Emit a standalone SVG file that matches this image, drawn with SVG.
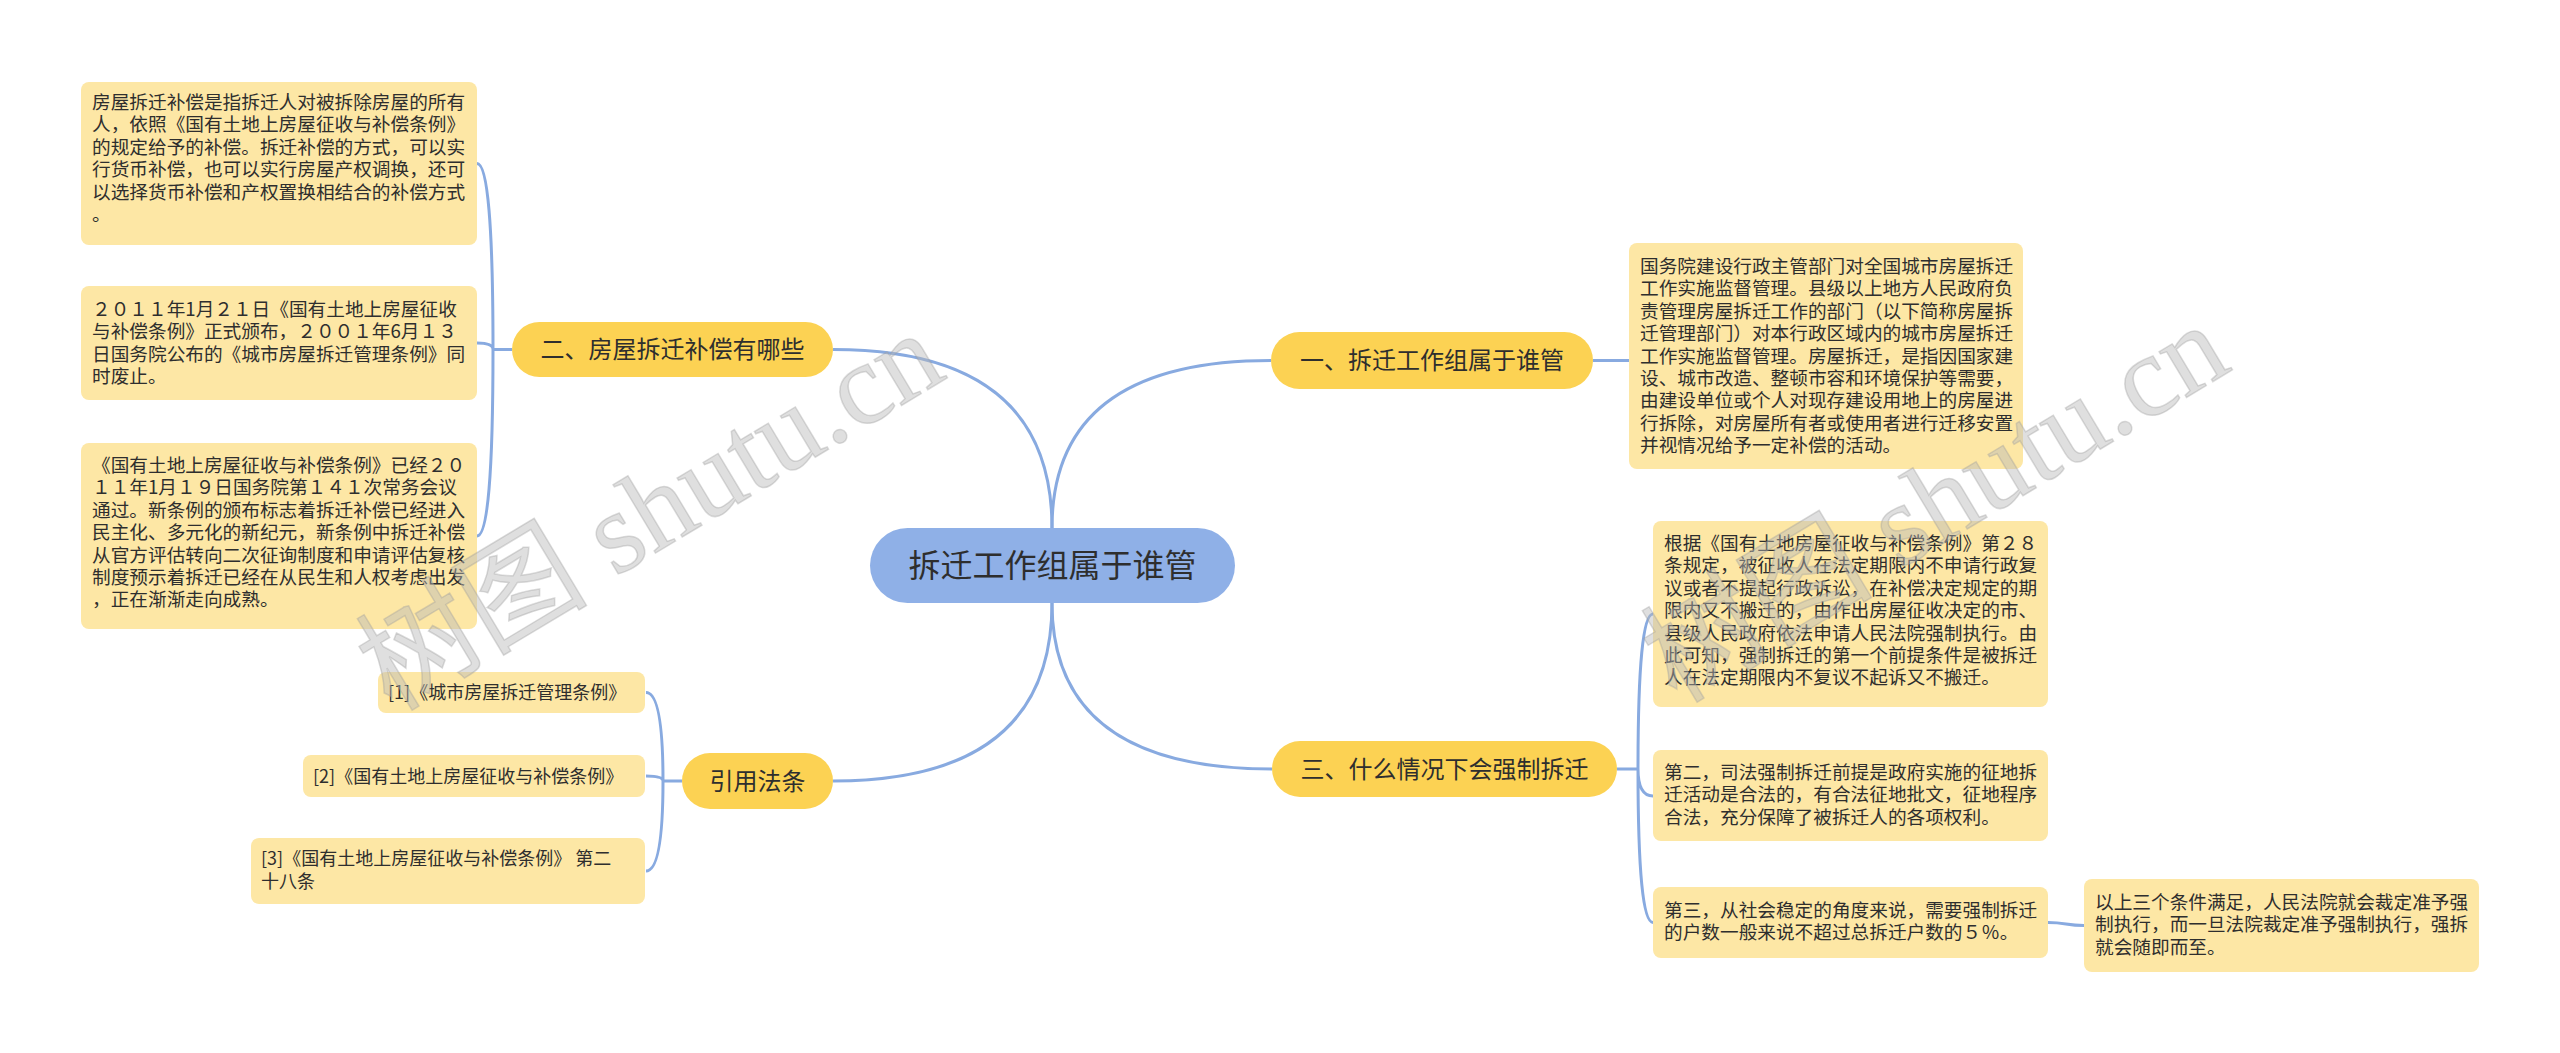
<svg xmlns="http://www.w3.org/2000/svg" width="2560" height="1053" viewBox="0 0 2560 1053">
<style>
.cn{font-family:"Noto Sans CJK SC","Noto Sans",sans-serif;fill:#2e2e2e}
.d{font-size:18.67px}
.r{font-size:18px}
.b{font-size:24px}
.root{font-size:32px}
.ln{fill:none;stroke:#88aae0;stroke-width:3}
.box{fill:#fde7a5}
.br{fill:#fcd253}
.wm{font-family:"Liberation Serif","Noto Sans CJK SC",serif;font-size:116px;fill:#b8b8b8;fill-opacity:0.45;stroke:#9a9a9a;stroke-opacity:0.35;stroke-width:1.5}
</style>
<rect width="2560" height="1053" fill="#ffffff"/>
<g id="connectors">
<path class="ln" d="M1052,528 Q1052,360.5 1271,360.5"/>
<path class="ln" d="M1052,528 Q1052,349.5 833,349.5"/>
<path class="ln" d="M1052,603 Q1052,781 833,781"/>
<path class="ln" d="M1052,603 Q1052,769 1272,769"/>
<path class="ln" d="M1593,360.5 L1629,360.5"/>
<path class="ln" d="M1617,769 H1638 M1638,769 Q1638,614 1653,614 M1638,769 Q1638,796 1653,796 M1638,769 Q1638,922.5 1653,922.5"/>
<path class="ln" d="M2048,922.5 C2066,922.5 2066,925.5 2084,925.5"/>
<path class="ln" d="M512,349.5 H493 M493,349.5 Q493,163.5 477,163.5 M493,349.5 Q493,343 477,343 M493,349.5 Q493,536 477,536"/>
<path class="ln" d="M682,781 H663 M663,781 Q663,692.5 646,692.5 M663,781 Q663,776 646,776 M663,781 Q663,871 646,871"/>
</g>
<g id="root">
<rect x="870" y="528" width="365" height="75" rx="37.5" fill="#8fb0e7"/>
<text class="cn root" x="1052.5" y="576.5" text-anchor="middle">拆迁工作组属于谁管</text>
</g>
<g id="n1">
<rect class="br" x="1271" y="332" width="322" height="57" rx="28.5"/>
<text class="cn b" x="1432" y="369" text-anchor="middle">一、拆迁工作组属于谁管</text>
</g>
<g id="n1d">
<rect class="box" x="1629" y="243" width="394" height="226" rx="8"/>
<text class="cn d">
<tspan x="1640" y="273">国务院建设行政主管部门对全国城市房屋拆迁</tspan>
<tspan x="1640" y="295.4">工作实施监督管理。县级以上地方人民政府负</tspan>
<tspan x="1640" y="317.8">责管理房屋拆迁工作的部门（以下简称房屋拆</tspan>
<tspan x="1640" y="340.2">迁管理部门）对本行政区域内的城市房屋拆迁</tspan>
<tspan x="1640" y="362.6">工作实施监督管理。房屋拆迁，是指因国家建</tspan>
<tspan x="1640" y="385">设、城市改造、整顿市容和环境保护等需要，</tspan>
<tspan x="1640" y="407.4">由建设单位或个人对现存建设用地上的房屋进</tspan>
<tspan x="1640" y="429.8">行拆除，对房屋所有者或使用者进行迁移安置</tspan>
<tspan x="1640" y="452.2">并视情况给予一定补偿的活动。</tspan>
</text>
</g>
<g id="n3">
<rect class="br" x="1272" y="741" width="345" height="56" rx="28"/>
<text class="cn b" x="1444.5" y="777.5" text-anchor="middle">三、什么情况下会强制拆迁</text>
</g>
<g id="n3a">
<rect class="box" x="1653" y="521" width="395" height="186" rx="8"/>
<text class="cn d">
<tspan x="1664" y="550">根据《国有土地房屋征收与补偿条例》第２８</tspan>
<tspan x="1664" y="572.4">条规定，被征收人在法定期限内不申请行政复</tspan>
<tspan x="1664" y="594.8">议或者不提起行政诉讼，在补偿决定规定的期</tspan>
<tspan x="1664" y="617.2">限内又不搬迁的，由作出房屋征收决定的市、</tspan>
<tspan x="1664" y="639.6">县级人民政府依法申请人民法院强制执行。由</tspan>
<tspan x="1664" y="662">此可知，强制拆迁的第一个前提条件是被拆迁</tspan>
<tspan x="1664" y="684.4">人在法定期限内不复议不起诉又不搬迁。</tspan>
</text>
</g>
<g id="n3b">
<rect class="box" x="1653" y="750" width="395" height="91" rx="8"/>
<text class="cn d">
<tspan x="1664" y="779">第二，司法强制拆迁前提是政府实施的征地拆</tspan>
<tspan x="1664" y="801.4">迁活动是合法的，有合法征地批文，征地程序</tspan>
<tspan x="1664" y="823.8">合法，充分保障了被拆迁人的各项权利。</tspan>
</text>
</g>
<g id="n3c">
<rect class="box" x="1653" y="887" width="395" height="71" rx="8"/>
<text class="cn d">
<tspan x="1664" y="917">第三，从社会稳定的角度来说，需要强制拆迁</tspan>
<tspan x="1664" y="939.4">的户数一般来说不超过总拆迁户数的５％。</tspan>
</text>
</g>
<g id="n3c1">
<rect class="box" x="2084" y="879" width="395" height="93" rx="8"/>
<text class="cn d">
<tspan x="2095" y="909">以上三个条件满足，人民法院就会裁定准予强</tspan>
<tspan x="2095" y="931.4">制执行，而一旦法院裁定准予强制执行，强拆</tspan>
<tspan x="2095" y="953.8">就会随即而至。</tspan>
</text>
</g>
<g id="n2">
<rect class="br" x="512" y="322" width="321" height="55" rx="27.5"/>
<text class="cn b" x="672.5" y="358" text-anchor="middle">二、房屋拆迁补偿有哪些</text>
</g>
<g id="n2a">
<rect class="box" x="81" y="82" width="396" height="163" rx="8"/>
<text class="cn d">
<tspan x="92" y="109">房屋拆迁补偿是指拆迁人对被拆除房屋的所有</tspan>
<tspan x="92" y="131.4">人，依照《国有土地上房屋征收与补偿条例》</tspan>
<tspan x="92" y="153.8">的规定给予的补偿。拆迁补偿的方式，可以实</tspan>
<tspan x="92" y="176.2">行货币补偿，也可以实行房屋产权调换，还可</tspan>
<tspan x="92" y="198.6">以选择货币补偿和产权置换相结合的补偿方式</tspan>
<tspan x="92" y="221">。</tspan>
</text>
</g>
<g id="n2b">
<rect class="box" x="81" y="286" width="396" height="114" rx="8"/>
<text class="cn d">
<tspan x="92" y="316">２０１１年1月２１日《国有土地上房屋征收</tspan>
<tspan x="92" y="338.4">与补偿条例》正式颁布，２００１年6月１３</tspan>
<tspan x="92" y="360.8">日国务院公布的《城市房屋拆迁管理条例》同</tspan>
<tspan x="92" y="383.2">时废止。</tspan>
</text>
</g>
<g id="n2c">
<rect class="box" x="81" y="443" width="396" height="186" rx="8"/>
<text class="cn d">
<tspan x="92" y="472">《国有土地上房屋征收与补偿条例》已经２０</tspan>
<tspan x="92" y="494.4">１１年1月１９日国务院第１４１次常务会议</tspan>
<tspan x="92" y="516.8">通过。新条例的颁布标志着拆迁补偿已经进入</tspan>
<tspan x="92" y="539.2">民主化、多元化的新纪元，新条例中拆迁补偿</tspan>
<tspan x="92" y="561.6">从官方评估转向二次征询制度和申请评估复核</tspan>
<tspan x="92" y="584">制度预示着拆迁已经在从民生和人权考虑出发</tspan>
<tspan x="92" y="606.4">，正在渐渐走向成熟。</tspan>
</text>
</g>
<g id="n4">
<rect class="br" x="682" y="753" width="151" height="56" rx="28"/>
<text class="cn b" x="757.5" y="789.5" text-anchor="middle">引用法条</text>
</g>
<g id="n4a">
<rect class="box" x="378" y="672" width="267" height="41" rx="8"/>
<text class="cn r" x="388" y="699">[1]《城市房屋拆迁管理条例》</text>
</g>
<g id="n4b">
<rect class="box" x="303" y="755" width="342" height="42" rx="8"/>
<text class="cn r" x="313" y="782.5">[2]《国有土地上房屋征收与补偿条例》</text>
</g>
<g id="n4c">
<rect class="box" x="251" y="838" width="394" height="66" rx="8"/>
<text class="cn r">
<tspan x="261" y="865">[3]《国有土地上房屋征收与补偿条例》 第二</tspan>
<tspan x="261" y="887.5">十八条</tspan>
</text>
</g>
<g id="watermark">
<text class="wm" x="650" y="511" text-anchor="middle" dominant-baseline="central" transform="rotate(-31 650 511)">树图 shutu.cn</text>
<text class="wm" x="1935" y="503" text-anchor="middle" dominant-baseline="central" transform="rotate(-31 1935 503)">树图 shutu.cn</text>
</g>
</svg>
